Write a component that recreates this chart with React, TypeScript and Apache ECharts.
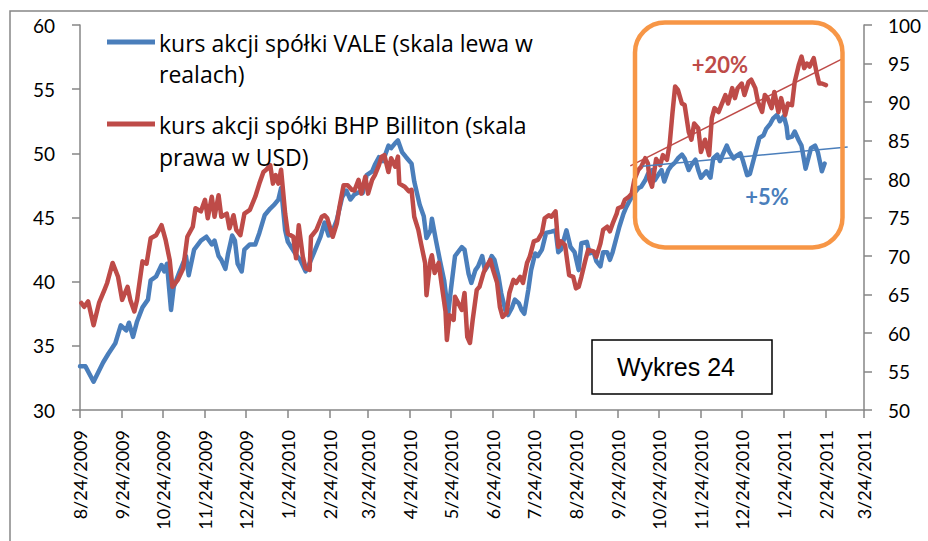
import React, { useEffect, useRef } from 'react';
import * as echarts from 'echarts';

// Day 0 = 8/24/2009
const START_DATE = '2009-08-24';
const TICK_LABELS = [
  '8/24/2009', '9/24/2009', '10/24/2009', '11/24/2009', '12/24/2009',
  '1/24/2010', '2/24/2010', '3/24/2010', '4/24/2010', '5/24/2010',
  '6/24/2010', '7/24/2010', '8/24/2010', '9/24/2010', '10/24/2010',
  '11/24/2010', '12/24/2010', '1/24/2011', '2/24/2011', '3/24/2011',
];

const VALE_NAME = 'kurs akcji spółki VALE (skala lewa w realach)';
const BHP_NAME = 'kurs akcji spółki BHP Billiton (skala prawa w USD)';
const VALE_LEGEND = 'kurs akcji spółki VALE (skala lewa w\nrealach)';
const BHP_LEGEND = 'kurs akcji spółki BHP Billiton (skala\nprawa w USD)';

// [day since START_DATE, price in BRL] – left axis
const VALE: [number, number][] = [
  [0, 33.4], [4, 33.4], [10, 32.2], [17, 33.7], [21, 34.4], [26, 35.2], [30, 36.6], [34, 36.2], [36, 36.8], [39, 35.7],
  [42, 36.9], [46, 38.0], [50, 38.6], [52, 40.1], [56, 40.4], [60, 41.3], [62, 40.8], [64, 41.4], [67, 37.8], [69, 39.6],
  [73, 40.7], [78, 42.0], [80, 40.5], [84, 42.5], [89, 43.2], [93, 43.5], [97, 42.9], [99, 43.2], [102, 42.0], [104, 41.7],
  [107, 41.0], [109, 42.2], [112, 43.6], [114, 43.2], [116, 41.4], [119, 40.8], [121, 42.5], [125, 42.9], [129, 42.9], [132, 43.8],
  [136, 45.2], [140, 45.7], [143, 46.0], [146, 46.4], [148, 47.3], [151, 44.0], [153, 43.1], [156, 42.6], [159, 42.1], [162, 41.7],
  [166, 40.8], [168, 41.2], [172, 42.2], [177, 43.5], [180, 44.6], [183, 43.6], [185, 43.7], [189, 44.8], [193, 46.6], [196, 47.1],
  [199, 46.4], [202, 46.8], [206, 47.0], [208, 46.9], [211, 48.3], [215, 48.6], [217, 49.1], [220, 49.7], [223, 49.4], [227, 50.6],
  [229, 50.4], [232, 50.8], [234, 51.0], [237, 50.1], [240, 49.7], [244, 49.2], [246, 47.8], [250, 46.0], [253, 45.1], [255, 43.4],
  [258, 44.0], [259, 44.9], [262, 43.2], [265, 41.6], [268, 40.1], [271, 37.5], [273, 39.4], [276, 42.0], [281, 42.7], [283, 42.5],
  [286, 40.6], [288, 39.9], [291, 40.9], [293, 41.2], [296, 42.0], [298, 40.9], [300, 41.2], [303, 42.0], [305, 41.7], [308, 40.4],
  [310, 39.1], [313, 37.8], [315, 37.4], [318, 38.0], [320, 38.6], [323, 38.3], [325, 37.8], [327, 37.5], [330, 39.4], [332, 40.9],
  [335, 42.2], [337, 42.0], [340, 42.5], [343, 43.8], [347, 43.9], [350, 44.0], [352, 42.3], [354, 42.5], [358, 44.0], [361, 42.7],
  [364, 42.3], [367, 40.9], [369, 43.0], [373, 43.1], [375, 42.2], [378, 42.3], [380, 41.6], [383, 41.2], [385, 42.3], [388, 42.3],
  [390, 41.7], [392, 42.3], [395, 43.5], [397, 44.3], [400, 45.3], [402, 45.8], [405, 46.4], [408, 46.9], [411, 47.3], [413, 47.4],
  [416, 47.9], [418, 48.4], [421, 48.7], [423, 47.9], [426, 48.4], [428, 48.7], [430, 47.8], [433, 48.7], [435, 49.0], [438, 49.3],
  [440, 49.6], [443, 49.9], [445, 49.6], [448, 48.7], [450, 49.1], [453, 49.5], [455, 48.7], [457, 48.1], [461, 48.6], [464, 48.1],
  [466, 49.6], [469, 49.9], [471, 49.4], [473, 49.9], [476, 50.6], [478, 50.1], [481, 49.6], [483, 49.8], [486, 50.0], [488, 49.4],
  [491, 48.3], [493, 48.4], [496, 49.6], [498, 50.4], [500, 51.2], [503, 51.4], [505, 51.9], [508, 52.3], [510, 52.7], [513, 53.0],
  [515, 52.5], [518, 52.9], [520, 52.1], [521, 51.2], [524, 51.3], [526, 51.7], [529, 51.0], [531, 50.6], [534, 48.8], [536, 49.6],
  [538, 50.4], [541, 50.6], [543, 50.1], [546, 48.6], [548, 49.2],
];

// [day since START_DATE, price in USD] – right axis
const BHP: [number, number][] = [
  [1, 63.9], [3, 63.4], [6, 64.1], [10, 61.0], [14, 63.9], [18, 65.6], [20, 66.5], [24, 69.1], [28, 67.3], [31, 64.3],
  [35, 66.0], [37, 64.3], [40, 62.8], [42, 64.3], [46, 69.3], [49, 69.0], [52, 72.3], [56, 72.7], [60, 74.0], [63, 72.1],
  [66, 69.5], [68, 66.0], [72, 66.9], [76, 68.4], [79, 72.5], [83, 73.8], [85, 76.2], [89, 75.8], [92, 77.3], [94, 74.9],
  [97, 77.7], [99, 75.1], [102, 77.9], [104, 75.1], [108, 75.5], [110, 73.6], [113, 75.3], [115, 73.4], [118, 72.7], [121, 75.5],
  [125, 76.0], [129, 77.7], [132, 79.4], [135, 80.9], [137, 81.2], [140, 81.8], [142, 79.4], [144, 80.5], [146, 79.4], [148, 81.2],
  [151, 75.5], [153, 72.9], [157, 72.5], [159, 69.7], [161, 74.0], [164, 69.9], [166, 68.4], [169, 68.2], [170, 72.5], [174, 73.4],
  [178, 75.1], [180, 75.3], [182, 74.9], [186, 72.5], [189, 74.2], [191, 76.4], [194, 79.2], [197, 79.2], [200, 78.6], [202, 78.5],
  [205, 79.9], [207, 78.1], [210, 80.3], [212, 78.1], [215, 79.9], [217, 80.5], [220, 81.8], [222, 82.9], [224, 83.1], [227, 80.9],
  [229, 82.7], [232, 81.6], [234, 82.9], [235, 79.4], [239, 79.0], [242, 78.4], [244, 78.6], [246, 75.1], [249, 73.4], [251, 71.6],
  [254, 69.1], [255, 64.9], [258, 69.5], [259, 70.1], [261, 67.8], [264, 69.1], [266, 66.5], [269, 62.8], [270, 59.1], [272, 62.3],
  [275, 61.7], [276, 64.7], [281, 63.0], [283, 65.2], [285, 59.5], [287, 58.7], [289, 61.7], [292, 65.6], [294, 66.0], [297, 67.8],
  [299, 68.6], [302, 69.5], [304, 68.2], [307, 66.5], [309, 63.4], [311, 62.1], [314, 62.6], [316, 65.2], [319, 66.9], [321, 66.5],
  [324, 67.3], [326, 66.5], [329, 69.1], [331, 69.9], [334, 71.9], [337, 72.1], [340, 73.0], [342, 74.9], [345, 75.3], [347, 75.1],
  [350, 75.8], [352, 71.2], [354, 71.9], [357, 71.4], [360, 67.5], [363, 67.3], [365, 65.8], [367, 66.0], [369, 67.3], [372, 69.5],
  [374, 70.8], [378, 70.6], [380, 69.9], [383, 71.6], [385, 73.4], [388, 73.8], [390, 73.2], [392, 74.2], [395, 75.5], [396, 76.2],
  [399, 76.4], [401, 77.3], [404, 77.7], [406, 78.1], [408, 79.9], [411, 81.2], [413, 81.6], [416, 82.7], [418, 82.0], [419, 80.0],
  [421, 79.0], [424, 82.6], [427, 81.8], [429, 83.1], [432, 82.5], [434, 84.6], [436, 88.5], [438, 92.0], [440, 91.6], [443, 89.8],
  [445, 89.6], [448, 86.1], [450, 85.1], [452, 87.2], [455, 86.6], [457, 83.5], [460, 85.1], [463, 83.1], [465, 87.9], [467, 89.2],
  [470, 88.7], [472, 89.6], [475, 90.9], [477, 89.8], [480, 91.8], [482, 90.5], [484, 91.8], [487, 92.4], [489, 90.9], [492, 92.6],
  [494, 92.9], [497, 91.8], [499, 90.0], [502, 88.7], [504, 90.9], [506, 90.5], [509, 89.2], [511, 91.3], [514, 88.7], [516, 90.5],
  [519, 88.3], [521, 89.8], [524, 89.6], [526, 92.6], [529, 94.8], [531, 95.9], [533, 94.4], [535, 95.0], [537, 94.6], [540, 95.7],
  [542, 93.9], [544, 92.4], [546, 92.4], [549, 92.2],
];

// trend lines [day, value]
const TREND_VALE: [number, number][] = [[414, 49.0], [565, 50.5]];
const TREND_BHP: [number, number][] = [[405, 81.7], [561, 95.6]];

const ANNOT_BHP = '+20%';
const ANNOT_VALE = '+5%';
const CHART_TITLE = 'Wykres 24';

const BLUE = '#4A7EBB';
const RED = '#BE4B48';
const ORANGE = '#F79646';
const AXIS = '#868686';
const FONT = 'Lato, "Noto Sans", sans-serif';
const LEGEND_FONT = '"Open Sans", sans-serif';

const [SY, SM, SD] = START_DATE.split('-').map(Number);
const START_UTC = Date.UTC(SY, SM - 1, SD);
const labelToDay = (s: string) => {
  const [m, d, y] = s.split('/').map(Number);
  return Math.round((Date.UTC(y, m - 1, d) - START_UTC) / 86400000);
};
const TICK_DAYS = TICK_LABELS.map(labelToDay);

export default function App() {
  const ref = useRef<HTMLDivElement>(null);
  useEffect(() => {
    if (!ref.current) return;
    const chart = echarts.init(ref.current, undefined, { renderer: 'svg' });
    chart.setOption({
      animation: false,
      backgroundColor: '#fff',
      grid: { left: 80, right: 64, top: 25, bottom: 131, containLabel: false, outerBoundsMode: 'none' },
      xAxis: {
        type: 'value',
        min: TICK_DAYS[0],
        max: TICK_DAYS[TICK_DAYS.length - 1],
        splitLine: { show: false },
        axisLine: { onZero: false, lineStyle: { color: AXIS, width: 1.5 } },
        axisTick: { show: true, length: 8, lineStyle: { color: AXIS, width: 1.5 }, customValues: TICK_DAYS },
        axisLabel: {
          customValues: TICK_DAYS,
          rotate: 90,
          margin: 20,
          fontSize: 18,
          fontFamily: FONT,
          color: '#000',
          formatter: (v: number) => {
            const i = TICK_DAYS.indexOf(Math.round(v));
            return i >= 0 ? TICK_LABELS[i] : '';
          },
        },
      },
      yAxis: [
        {
          type: 'value', position: 'left', min: 30, max: 60, interval: 5,
          splitLine: { show: false },
          axisLine: { show: true, lineStyle: { color: AXIS, width: 1.5 } },
          axisTick: { show: true, length: 8, lineStyle: { color: AXIS, width: 1.5 } },
          axisLabel: { margin: 25, fontSize: 19, fontFamily: FONT, color: '#000' },
        },
        {
          type: 'value', position: 'right', min: 50, max: 100, interval: 5,
          splitLine: { show: false },
          axisLine: { show: true, lineStyle: { color: AXIS, width: 1.5 } },
          axisTick: { show: true, length: 8, lineStyle: { color: AXIS, width: 1.5 } },
          axisLabel: { margin: 24, fontSize: 19, fontFamily: FONT, color: '#000' },
        },
      ],
      series: [
        {
          name: VALE_NAME, type: 'line', yAxisIndex: 0, showSymbol: false, symbol: 'none',
          data: VALE,
          lineStyle: { color: BLUE, width: 4.5, join: 'round', cap: 'round' },
          itemStyle: { color: BLUE }, z: 2,
          markLine: {
            silent: true, symbol: ['none', 'none'], label: { show: false },
            lineStyle: { color: BLUE, width: 1.5, type: 'solid' },
            emphasis: { disabled: true },
            data: [[{ coord: TREND_VALE[0] }, { coord: TREND_VALE[1] }]],
          },
        },
        {
          name: BHP_NAME, type: 'line', yAxisIndex: 1, showSymbol: false, symbol: 'none',
          data: BHP,
          lineStyle: { color: RED, width: 4.5, join: 'round', cap: 'round' },
          itemStyle: { color: RED }, z: 3,
          markLine: {
            silent: true, symbol: ['none', 'none'], label: { show: false },
            lineStyle: { color: RED, width: 1.5, type: 'solid' },
            emphasis: { disabled: true },
            data: [[{ coord: TREND_BHP[0] }, { coord: TREND_BHP[1] }]],
          },
        },
      ],
      graphic: [
        { type: 'rect', z: 100, silent: true, shape: { x: 10, y: 11, width: 940, height: 560 }, style: { fill: 'none', stroke: AXIS, lineWidth: 1.5 } },
        { type: 'line', z: 100, shape: { x1: 107, y1: 42, x2: 155, y2: 42 }, style: { stroke: BLUE, lineWidth: 5 } },
        { type: 'text', z: 100, x: 159, y: 27, style: { text: VALE_LEGEND, fontSize: 23, fontFamily: LEGEND_FONT, fill: '#000', lineHeight: 31, verticalAlign: 'top', align: 'left' } },
        { type: 'line', z: 100, shape: { x1: 107, y1: 124, x2: 155, y2: 124 }, style: { stroke: RED, lineWidth: 5 } },
        { type: 'text', z: 100, x: 159, y: 109, style: { text: BHP_LEGEND, fontSize: 23, fontFamily: LEGEND_FONT, fill: '#000', lineHeight: 32, verticalAlign: 'top', align: 'left' } },
        { type: 'rect', z: 100, shape: { x: 635, y: 22.5, width: 207.5, height: 225, r: 30 }, style: { fill: 'none', stroke: ORANGE, lineWidth: 4.5 } },
        { type: 'text', z: 100, x: 720, y: 64, style: { text: ANNOT_BHP, fontSize: 22, fontWeight: 'bold', fontFamily: FONT, fill: RED, align: 'center', verticalAlign: 'middle' } },
        { type: 'text', z: 100, x: 767, y: 196, style: { text: ANNOT_VALE, fontSize: 22, fontWeight: 'bold', fontFamily: FONT, fill: BLUE, align: 'center', verticalAlign: 'middle' } },
        { type: 'rect', z: 100, shape: { x: 592, y: 340, width: 180, height: 54 }, style: { fill: '#fff', stroke: '#000', lineWidth: 1.5 } },
        { type: 'text', z: 101, x: 676, y: 367, style: { text: CHART_TITLE, fontSize: 25, fontFamily: '"Liberation Sans", Arial, sans-serif', fill: '#000', align: 'center', verticalAlign: 'middle' } },
      ],
    });
    return () => chart.dispose();
  }, []);
  return <div ref={ref} style={{ position: 'absolute', left: 0, top: 0, width: 928, height: 541 }} />;
}
